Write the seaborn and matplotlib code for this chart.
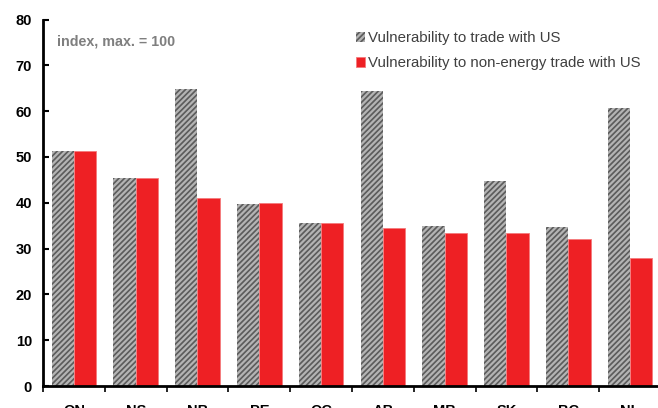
import pandas as pd
import matplotlib.pyplot as plt
import matplotlib as mpl
import seaborn as sns

sns.set_theme(style='white')
plt.rcParams['font.family'] = ['Liberation Sans', 'DejaVu Sans']
mpl.rcParams['hatch.linewidth'] = 1.6

provinces = ['ON', 'NS', 'NB', 'PE', 'QC', 'AB', 'MB', 'SK', 'BC', 'NL']
trade_us = [51.2, 45.3, 64.8, 39.7, 35.6, 64.3, 34.9, 44.8, 34.7, 60.7]
non_energy_us = [51.3, 45.4, 41.0, 40.0, 35.6, 34.5, 33.4, 33.3, 32.0, 27.9]
series = ['Vulnerability to trade with US', 'Vulnerability to non-energy trade with US']

df = pd.DataFrame({
    'province': provinces * 2,
    'value': trade_us + non_energy_us,
    'series': [series[0]] * len(provinces) + [series[1]] * len(provinces),
})

fig = plt.figure(figsize=(6.58, 4.08), dpi=100)
ax = fig.add_axes([43 / 658, 22 / 408, 618 / 658, (386 - 19.5) / 408])

sns.barplot(data=df, x='province', y='value', hue='series', order=provinces,
            hue_order=series, palette=['#5c5c5c', '#ee2024'], width=0.72,
            gap=0, saturation=1, legend=False, ax=ax)

for bar in ax.containers[0]:
    bar.set_hatch('//////')
    bar.set_edgecolor('#b4b4b4')
    bar.set_linewidth(0)
for bar in ax.containers[1]:
    bar.set_edgecolor('#f47a7c')
    bar.set_linewidth(0.6)

ax.set_ylim(0, 80)
ax.set_xlim(-0.5, 9.5)
ax.set_yticks(range(0, 81, 10))
ax.set_xticks([i - 0.5 for i in range(10)])
ax.set_xticklabels([])
ax.set_xticks(range(10), minor=True)
ax.set_xticklabels(provinces, minor=True)
ax.tick_params(axis='x', which='major', direction='out', length=4, width=1.2, color='black', bottom=True)
ax.tick_params(axis='x', which='minor', length=0, pad=13, labelsize=10.5)
ax.tick_params(axis='y', direction='in', length=4, width=1.5, color='black', left=True, labelsize=10.5, pad=8)
for lab in ax.get_xticklabels(minor=True) + ax.get_yticklabels():
    lab.set_fontweight('bold')
    lab.set_color('black')

for side in ['top', 'right']:
    ax.spines[side].set_visible(False)
for side in ['left', 'bottom']:
    ax.spines[side].set_color('black')
    ax.spines[side].set_linewidth(2)
ax.set_xlabel('')
ax.set_ylabel('')

ax.text(0.022, 0.94, 'index, max. = 100', transform=ax.transAxes, fontsize=10.3,
        fontweight='bold', color='#7f7f7f', va='center')

ax.legend(ax.containers, series, loc='upper left', bbox_to_anchor=(0.485, 1.005),
          frameon=False, fontsize=10.8, labelcolor='#404040', handlelength=0.6,
          handleheight=0.6, handletextpad=0.2, labelspacing=0.75)

fig.savefig('out.png', dpi=100)
